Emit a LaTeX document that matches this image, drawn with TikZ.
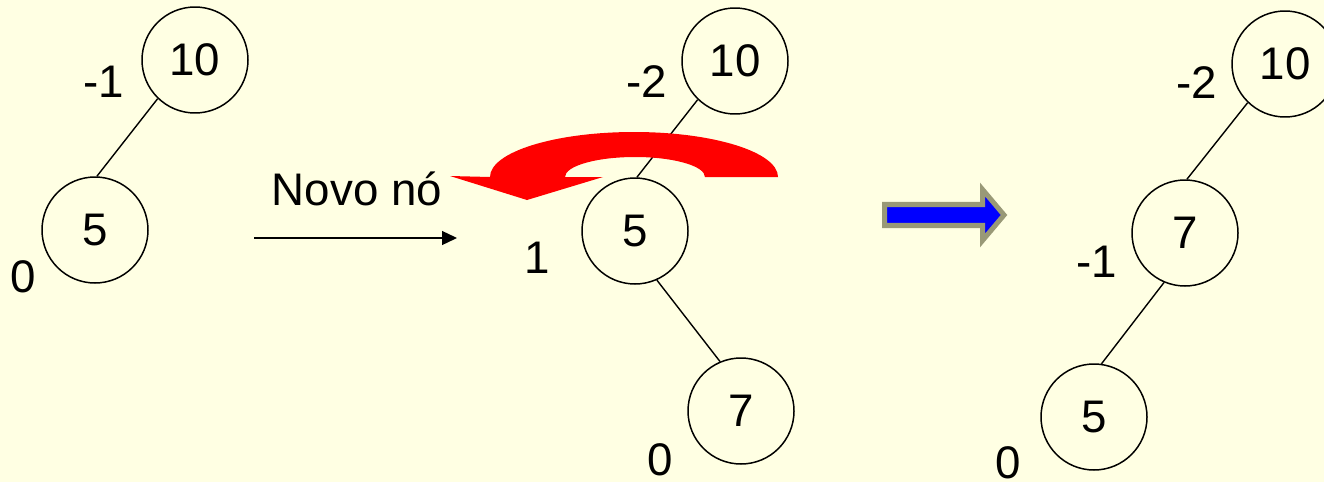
\documentclass[tikz,border=0pt]{standalone}
\usepackage{fontspec}
\setmainfont{Liberation Sans}
\usetikzlibrary{arrows.meta}
\definecolor{fundo}{RGB}{255,255,227}
\definecolor{borda}{RGB}{153,153,119}
\begin{document}
\begin{tikzpicture}[scale=1,
        circulo/.style={draw, circle, line width=0.85pt, minimum size=2.12cm, inner sep=0pt, font=\fontsize{26}{31}\selectfont},
        fator/.style={inner sep=0pt, font=\fontsize{26}{31}\selectfont},
        aresta/.style={line width=0.8pt}]
            % Fundo
            \useasboundingbox (0,0) rectangle (26.48,-9.64);
            \fill[fundo] (0,0) rectangle (26.48,-9.64);
            % Arvore inicial
            \begin{scope}
                \node[circulo] (a10) at (3.9,-1.2) {10};
                \node[circulo] (a5) at (1.9,-4.6) {5};
                \draw[aresta] (a10.226) -- (a5.88);
                \node[fator] (fa10) at (2.08,-1.64) {-1};
                \node[fator] (fa5) at (0.46,-5.54) {0};
            \end{scope}
            % Insercao
            \node[fator, anchor=base] (novo) at (7.14,-4.1) {Novo nó};
            \coordinate (ini) at (5.08,-4.76);
            \coordinate (fim) at (9.14,-4.76);
            \draw[line width=0.75pt, -{Triangle[length=0.3cm,width=0.28cm]}] (ini) -- (fim);
            % Arvore desbalanceada
            \begin{scope}
                \node[circulo] (b10) at (14.7,-1.22) {10};
                \node[circulo] (b5) at (12.7,-4.62) {5};
                \node[circulo] (b7) at (14.82,-8.22) {7};
                \draw[aresta] (b10.226) -- (b5.88);
                \draw[aresta] (b5.294) -- (b7.113);
                \node[fator] (fb10) at (12.94,-1.64) {-2};
                \node[fator] (fb5) at (10.74,-5.16) {1};
                \node[fator] (fb7) at (13.2,-9.2) {0};
                % rotacao
                \fill[red] (15.56,-3.54) arc[start angle=0, end angle=180, x radius=2.88cm, y radius=0.9cm]
                    -- (9.0,-3.52) -- (10.54,-4.0) -- (12.06,-3.54) -- (11.3,-3.54)
                    arc[start angle=180, end angle=0, x radius=1.4cm, y radius=0.4cm] -- cycle;
            \end{scope}
            % Seta
            \filldraw[fill=blue, draw=borda, line width=2.85pt, line join=miter]
                (17.69,-4.09) -- (19.65,-4.09) -- (19.65,-3.79) -- (20.08,-4.3)
                -- (19.65,-4.81) -- (19.65,-4.51) -- (17.69,-4.51) -- cycle;
            % Arvore balanceada
            \begin{scope}
                \node[circulo] (c10) at (25.7,-1.28) {10};
                \node[circulo] (c7) at (23.7,-4.66) {7};
                \node[circulo] (c5) at (21.88,-8.34) {5};
                \draw[aresta] (c10.226) -- (c7.88);
                \draw[aresta] (c7.247) -- (c5.82);
                \node[fator] (fc10) at (23.94,-1.66) {-2};
                \node[fator] (fc7) at (21.94,-5.24) {-1};
                \node[fator] (fc5) at (20.16,-9.26) {0};
            \end{scope}
        \end{tikzpicture}
\end{document}
